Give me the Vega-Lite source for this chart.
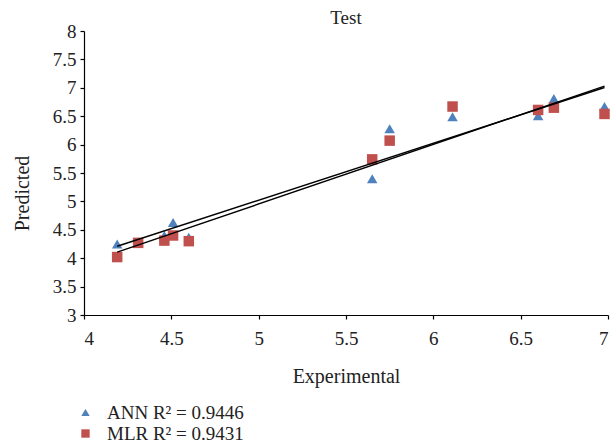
{
  "$schema": "https://vega.github.io/schema/vega-lite/v6.json",
  "autosize": {"type": "none"},
  "width": 524,
  "height": 284,
  "padding": {"left": 84, "top": 31, "right": 7, "bottom": 129},
  "background": "white",
  "config": {
    "font": "Liberation Serif",
    "view": {"stroke": null},
    "axis": {"grid": false, "domainColor": "black", "tickColor": "black", "labelColor": "#222", "titleColor": "#222", "labelFont": "Liberation Serif", "titleFont": "Liberation Serif", "labelFontSize": 19, "titleFontSize": 20, "titleFontWeight": "normal", "tickSize": 4, "domainWidth": 1.2, "tickWidth": 1.2, "labelOverlap": false}
  },
  "title": {"text": "Test", "fontSize": 19, "font": "Liberation Serif", "fontWeight": "normal", "color": "#222", "offset": -6},
  "data": {"values": [
    {"series": "ANN", "experimental": 4.19, "predicted": 4.25},
    {"series": "ANN", "experimental": 4.31, "predicted": 4.29},
    {"series": "ANN", "experimental": 4.46, "predicted": 4.40},
    {"series": "ANN", "experimental": 4.51, "predicted": 4.63},
    {"series": "ANN", "experimental": 4.60, "predicted": 4.37},
    {"series": "ANN", "experimental": 5.65, "predicted": 5.40},
    {"series": "ANN", "experimental": 5.75, "predicted": 6.28},
    {"series": "ANN", "experimental": 6.11, "predicted": 6.49},
    {"series": "ANN", "experimental": 6.60, "predicted": 6.51},
    {"series": "ANN", "experimental": 6.69, "predicted": 6.81},
    {"series": "ANN", "experimental": 6.98, "predicted": 6.67},
    {"series": "MLR", "experimental": 4.19, "predicted": 4.02},
    {"series": "MLR", "experimental": 4.31, "predicted": 4.27},
    {"series": "MLR", "experimental": 4.46, "predicted": 4.31},
    {"series": "MLR", "experimental": 4.51, "predicted": 4.40},
    {"series": "MLR", "experimental": 4.60, "predicted": 4.30},
    {"series": "MLR", "experimental": 5.65, "predicted": 5.74},
    {"series": "MLR", "experimental": 5.75, "predicted": 6.07},
    {"series": "MLR", "experimental": 6.11, "predicted": 6.67},
    {"series": "MLR", "experimental": 6.60, "predicted": 6.61},
    {"series": "MLR", "experimental": 6.69, "predicted": 6.65},
    {"series": "MLR", "experimental": 6.98, "predicted": 6.54}
  ]},
  "encoding": {
    "x": {"field": "experimental", "type": "quantitative", "scale": {"domain": [4, 7], "nice": false, "zero": false}, "axis": {"title": "Experimental", "values": [4, 4.5, 5, 5.5, 6, 6.5, 7], "format": ".2~f", "labelOverlap": false, "labelPadding": 10, "titlePadding": 18}},
    "y": {"field": "predicted", "type": "quantitative", "scale": {"domain": [3, 8], "nice": false, "zero": false}, "axis": {"title": "Predicted", "values": [3, 3.5, 4, 4.5, 5, 5.5, 6, 6.5, 7, 7.5, 8], "format": ".2~f", "labelOverlap": false, "labelPadding": 4, "titleBaseline": "middle", "titleX": -62, "titleY": 162}}
  },
  "layer": [
    {
      "mark": {"type": "point", "filled": true, "opacity": 1, "size": 110},
      "encoding": {
        "color": {"field": "series", "type": "nominal", "scale": {"domain": ["ANN", "MLR"], "range": ["#4F81BD", "#C0504D"]},
          "legend": {"title": null, "orient": "none", "legendX": -8, "legendY": 372, "labelFontSize": 19, "labelFont": "Liberation Serif", "labelColor": "#222", "symbolSize": 70, "rowPadding": 1, "labelOffset": 12, "labelExpr": "datum.label == 'ANN' ? 'ANN R² = 0.9446' : 'MLR R² = 0.9431'"}},
        "shape": {"field": "series", "type": "nominal", "scale": {"domain": ["ANN", "MLR"], "range": ["triangle-up", "square"]}}
      }
    },
    {
      "transform": [{"regression": "predicted", "on": "experimental", "groupby": ["series"]}],
      "mark": {"type": "line", "color": "black", "strokeWidth": 1.4},
      "encoding": {
        "detail": {"field": "series", "type": "nominal"}
      }
    }
  ]
}
